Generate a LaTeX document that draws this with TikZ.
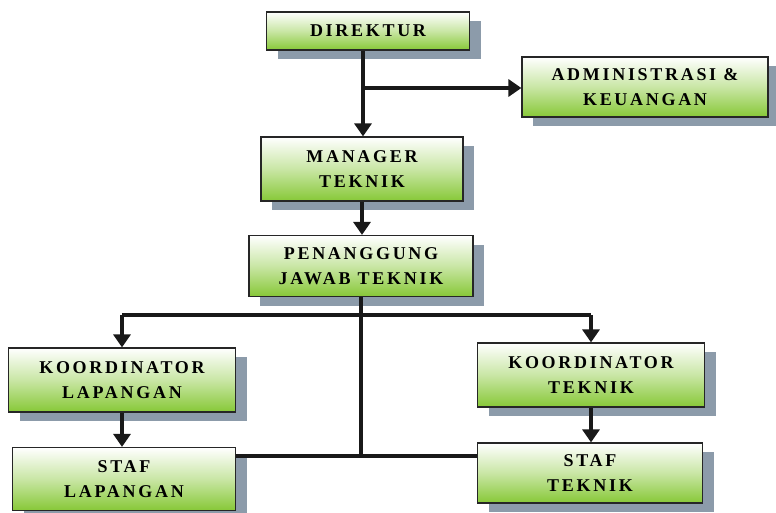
\documentclass[tikz,border=0pt]{standalone}
\usepackage{fontspec}
\setmainfont[LetterSpace=15]{Liberation Serif}
\usetikzlibrary{arrows.meta,shadows}

\definecolor{hijau}{RGB}{135,200,55}
\definecolor{bayang}{RGB}{140,155,170}

\tikzset{
  kotak/.style={draw=black!85, line width=1.2pt, top color=white, bottom color=hijau,
    middle color=white!55!hijau, align=center, inner sep=0pt,
    font=\bfseries\fontsize{18}{25}\selectfont,
    drop shadow={shadow xshift=11pt, shadow yshift=-9pt, fill=bayang, opacity=1}},
  garis/.style={line width=4pt, black!90},
  panah/.style={garis, -{Triangle[length=13pt,width=17pt]}}
}

\begin{document}
\begin{tikzpicture}[x=1pt,y=-1pt]
    \useasboundingbox (0,0) rectangle (776,512);

    % Kotak jabatan
    \node[kotak, minimum width=203pt, minimum height=38pt] (dir) at (368,31) {DIREKTUR};
    \node[kotak, minimum width=246pt, minimum height=60pt] (adm) at (645,87) {ADMINISTRASI \&\\KEUANGAN};
    \node[kotak, minimum width=202pt, minimum height=64pt] (mgr) at (362,169) {MANAGER\\TEKNIK};
    \node[kotak, minimum width=224pt, minimum height=61pt] (pj) at (361,266) {PENANGGUNG\\JAWAB TEKNIK};
    \node[kotak, minimum width=227pt, minimum height=64pt] (kl) at (122,380) {KOORDINATOR\\LAPANGAN};
    \node[kotak, minimum width=223pt, minimum height=63pt] (sl) at (124,479) {STAF\\LAPANGAN};
    \node[kotak, minimum width=227pt, minimum height=64pt] (kt) at (591,375) {KOORDINATOR\\TEKNIK};
    \node[kotak, minimum width=225pt, minimum height=60pt] (st) at (590,473) {STAF\\TEKNIK};

    % Titik cabang
    \coordinate (cab) at (363,88);
    \coordinate (atas) at (361,315);
    \coordinate (bawah) at (361,456);

    % Garis hubung
    \draw[panah] (dir.south -| cab) -- (mgr.north -| cab);
    \draw[panah] (cab) -- (adm.west |- cab);
    \draw[panah] (mgr.south) -- (pj.north -| mgr.south);
    \draw[garis] (pj.south) -- (bawah);
    \draw[garis] (kl.north |- atas) -- (kt.north |- atas);
    \draw[panah] (kl.north |- atas) -- (kl.north);
    \draw[panah] (kt.north |- atas) -- (kt.north);
    \draw[panah] (kl.south) -- (sl.north -| kl.south);
    \draw[panah] (kt.south) -- (st.north -| kt.south);
    \draw[garis] (sl.east |- bawah) -- (st.west |- bawah);
\end{tikzpicture}
\end{document}
